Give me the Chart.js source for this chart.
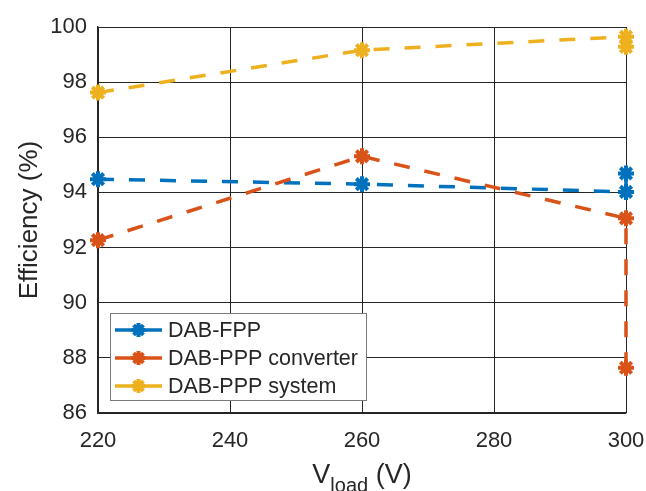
<!DOCTYPE html>
<html>
<head>
<meta charset="utf-8">
<script src="https://cdn.jsdelivr.net/npm/chart.js@4"></script>
<style>
  html, body { margin: 0; padding: 0; background: #fff; }
  #wrap { width: 646px; height: 491px; }
</style>
</head>
<body>
<div id="wrap"><canvas id="chartEff" width="646" height="491"></canvas></div>
<script>
// values
const voltages = [220, 260, 300, 300];
const fppEff = [94.48, 94.30, 94.02, 94.69];
const pppConvEff = [92.27, 95.31, 93.06, 87.64];
const pppSysEff = [97.62, 99.16, 99.65, 99.28];
const seriesNames = ['DAB-FPP', 'DAB-PPP converter', 'DAB-PPP system'];
const xTickValues = [220, 240, 260, 280, 300];
const yTickValues = [86, 88, 90, 92, 94, 96, 98, 100];

const colors = ['#0072BD', '#D95319', '#EDB120'];
const fontFamily = '"Liberation Sans", Arial, Helvetica, sans-serif';
const textColor = '#262626';

function points(ys) {
    return voltages.map((v, i) => ({ x: v, y: ys[i] }));
}

function makeSet(i, ys, order) {
    return {
        label: seriesNames[i],
        data: points(ys),
        borderColor: colors[i],
        backgroundColor: colors[i],
        borderWidth: 3.5,
        borderDash: [16, 15],
        pointStyle: 'star',
        pointRadius: 8,
        pointBorderWidth: 4,
        pointBorderColor: colors[i],
        tension: 0,
        clip: false,
        order: order
    };
}

// asterisk marker for the legend
function drawStar(ctx, x, y, r, color) {
    ctx.save();
    ctx.strokeStyle = color;
    ctx.lineWidth = 4;
    ctx.beginPath();
    for (let k = 0; k < 4; k++) {
        const a = k * Math.PI / 4;
        ctx.moveTo(x - r * Math.cos(a), y - r * Math.sin(a));
        ctx.lineTo(x + r * Math.cos(a), y + r * Math.sin(a));
    }
    ctx.stroke();
    ctx.restore();
}

const overlay = {
    id: 'overlay',
    afterDraw(chart) {
        const ctx = chart.ctx;
        const a = chart.chartArea;

        // y axis title
        ctx.save();
        ctx.fillStyle = textColor;
        ctx.font = '26px ' + fontFamily;
        ctx.textAlign = 'center';
        ctx.textBaseline = 'middle';
        ctx.translate(30, (a.top + a.bottom) / 2);
        ctx.rotate(-Math.PI / 2);
        ctx.fillText('Efficiency (%)', 0, 0);
        ctx.restore();

        // x axis title with subscript
        ctx.save();
        ctx.fillStyle = textColor;
        ctx.textBaseline = 'alphabetic';
        ctx.textAlign = 'left';
        const big = '27px ' + fontFamily;
        const small = '20px ' + fontFamily;
        ctx.font = big;
        const wV = ctx.measureText('V').width;
        const wTail = ctx.measureText(' (V)').width;
        ctx.font = small;
        const wSub = ctx.measureText('load').width;
        let x = (a.left + a.right) / 2 - (wV + wSub + wTail) / 2;
        const base = 483;
        ctx.font = big;
        ctx.fillText('V', x, base);
        x += wV;
        ctx.font = small;
        ctx.fillText('load', x, base + 9);
        x += wSub;
        ctx.font = big;
        ctx.fillText(' (V)', x, base);
        ctx.restore();

        // legend box inside the axes
        const lx = 110, ly = 313, lw = 256, lh = 87;
        ctx.save();
        ctx.fillStyle = '#ffffff';
        ctx.fillRect(lx, ly, lw, lh);
        ctx.strokeStyle = '#7a7a7a';
        ctx.lineWidth = 1;
        ctx.strokeRect(lx + 0.5, ly + 0.5, lw, lh);
        ctx.font = '21.5px ' + fontFamily;
        ctx.textBaseline = 'middle';
        ctx.textAlign = 'left';
        seriesNames.forEach((name, i) => {
            const cy = ly + 17 + i * 28;
            ctx.strokeStyle = colors[i];
            ctx.lineWidth = 3.5;
            ctx.beginPath();
            ctx.moveTo(115, cy);
            ctx.lineTo(162, cy);
            ctx.stroke();
            drawStar(ctx, 138.5, cy, 7, colors[i]);
            ctx.fillStyle = textColor;
            ctx.fillText(name, 168, cy + 1);
        });
        ctx.restore();
    }
};

const ctxEff = document.getElementById('chartEff').getContext('2d');
const chartEff = new Chart(ctxEff, {
    type: 'line',
    data: {
        datasets: [
            makeSet(0, fppEff, 2),
            makeSet(1, pppConvEff, 1),
            makeSet(2, pppSysEff, 0)
        ]
    },
    options: {
        responsive: false,
        animation: false,
        devicePixelRatio: 1,
        layout: { padding: { top: 27, right: 20, left: 0, bottom: 0 } },
        plugins: {
            legend: { display: false },
            tooltip: { enabled: false }
        },
        scales: {
            x: {
                type: 'linear',
                min: 220,
                max: 300,
                afterBuildTicks(scale) {
                    scale.ticks = xTickValues.map(v => ({ value: v }));
                },
                afterFit(scale) {
                    scale.height = 78;
                    scale.paddingLeft = 0;
                    scale.paddingRight = 0;
                },
                grid: { color: '#262626', lineWidth: 1, drawTicks: false },
                border: { color: '#262626', width: 1.3 },
                ticks: {
                    color: textColor,
                    padding: 15,
                    maxRotation: 0,
                    font: { family: fontFamily, size: 22 }
                }
            },
            y: {
                min: 86,
                max: 100,
                afterBuildTicks(scale) {
                    scale.ticks = yTickValues.map(v => ({ value: v }));
                },
                afterFit(scale) {
                    scale.width = 98;
                    scale.paddingTop = 0;
                    scale.paddingBottom = 0;
                },
                grid: { color: '#262626', lineWidth: 1, drawTicks: false },
                border: { color: '#262626', width: 1.3 },
                ticks: {
                    color: textColor,
                    padding: 11,
                    font: { family: fontFamily, size: 22 }
                }
            }
        }
    },
    plugins: [overlay]
});
</script>
</body>
</html>
